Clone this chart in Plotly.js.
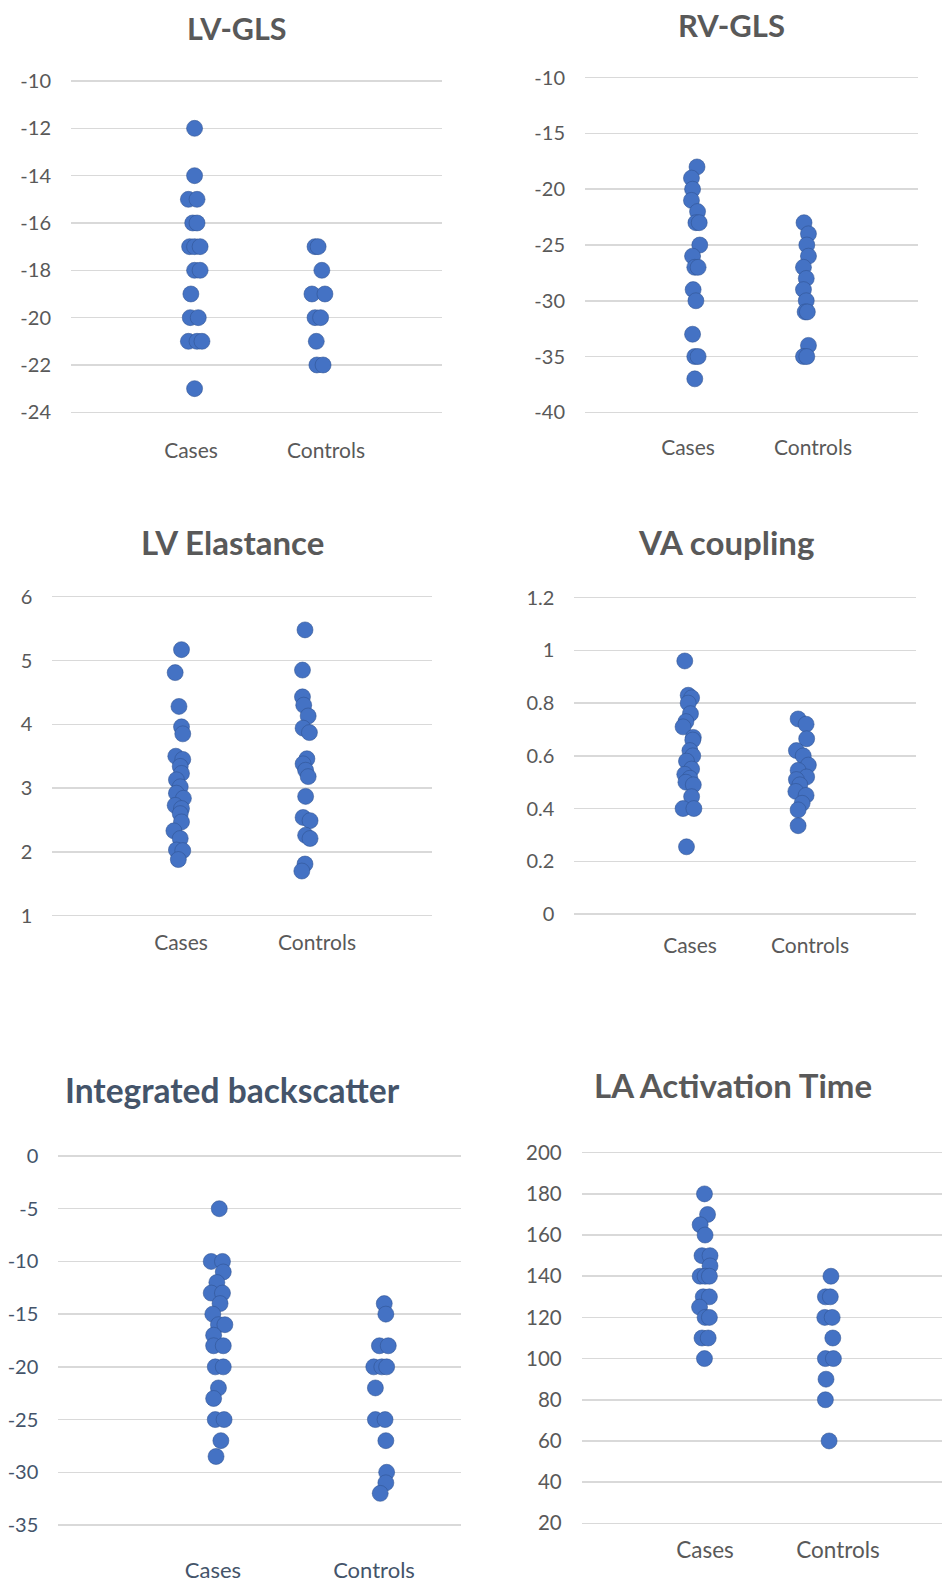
<!DOCTYPE html>
<html>
<head>
<meta charset="utf-8">
<script src="https://cdn.plot.ly/plotly-3.0.1.min.js"></script>
<style>
  html, body { margin: 0; padding: 0; background: #ffffff; }
  #chart { width: 942px; height: 1578px; }
</style>
</head>
<body>
<div id="chart"></div>
<script>
// ---------------- DATA ----------------
const categories = ["Cases", "Controls"];

// LV-GLS
const lvglsCasesY    = [-12, -14, -15, -15, -16, -16, -17, -17, -17, -18, -18, -19, -20, -20, -21, -21, -21, -23];
const lvglsCasesJit  = [0, 0, -0.05, 0.02, -0.015, 0.02, -0.04, 0.0, 0.045, 0.0, 0.045, -0.03, -0.035, 0.03, -0.05, 0.02, 0.06, 0];
const lvglsCtrlY     = [-17, -17, -18, -19, -19, -20, -20, -21, -22, -22];
const lvglsCtrlJit   = [-0.025, 0.0, 0.03, -0.05, 0.055, -0.025, 0.02, -0.015, -0.01, 0.04];
const lvglsTicks     = [-10, -12, -14, -16, -18, -20, -22, -24];

// RV-GLS
const rvglsCasesY    = [-18, -19, -20, -21, -22, -23, -23, -25, -26, -27, -27, -29, -30, -33, -35, -35, -37];
const rvglsCasesJit  = [0.01, -0.04, -0.03, -0.04, 0.015, 0.0, 0.03, 0.035, -0.03, -0.01, 0.02, -0.025, 0.0, -0.03, -0.01, 0.02, -0.01];
const rvglsCtrlY     = [-23, -24, -25, -26, -27, -28, -29, -30, -31, -31, -34, -35, -35];
const rvglsCtrlJit   = [-0.025, 0.015, 0.0, 0.015, -0.03, -0.005, -0.03, -0.005, -0.015, 0.005, 0.015, -0.03, 0.0];
const rvglsTicks     = [-10, -15, -20, -25, -30, -35, -40];

// LV Elastance
const lveCasesY      = [5.17, 4.81, 4.28, 3.96, 3.85, 3.50, 3.45, 3.34, 3.23, 3.13, 3.02, 2.92, 2.84, 2.73, 2.68, 2.60, 2.47, 2.33, 2.21, 2.03, 2.02, 1.88];
const lveCasesJit    = [0.02, -0.03, 0.0, 0.02, 0.03, -0.025, 0.03, 0.01, 0.02, -0.02, 0.01, -0.02, 0.035, -0.03, 0.02, 0.01, 0.02, -0.04, 0.01, -0.02, 0.03, -0.005];
const lveCtrlY       = [5.48, 4.85, 4.43, 4.30, 4.13, 3.94, 3.87, 3.46, 3.38, 3.28, 3.18, 2.87, 2.54, 2.49, 2.26, 2.21, 1.81, 1.70];
const lveCtrlJit     = [-0.005, -0.025, -0.025, -0.015, 0.02, -0.02, 0.03, 0.01, -0.02, 0.0, 0.02, 0.0, -0.02, 0.035, 0.0, 0.035, -0.005, -0.03];
const lveTicks       = [1, 2, 3, 4, 5, 6];

// VA coupling
const vaCasesY       = [0.96, 0.83, 0.82, 0.80, 0.76, 0.73, 0.71, 0.67, 0.66, 0.62, 0.60, 0.58, 0.55, 0.53, 0.515, 0.50, 0.49, 0.445, 0.40, 0.40, 0.255];
const vaCasesJit     = [-0.03, 0.0, 0.03, 0.0, 0.02, -0.02, -0.045, 0.045, 0.04, 0.015, 0.04, -0.015, 0.03, -0.03, 0.015, -0.02, 0.045, 0.03, -0.045, 0.05, -0.015];
const vaCtrlY        = [0.74, 0.72, 0.665, 0.62, 0.60, 0.565, 0.545, 0.52, 0.51, 0.49, 0.465, 0.45, 0.42, 0.395, 0.335];
const vaCtrlJit      = [-0.035, 0.035, 0.04, -0.05, 0.01, 0.055, -0.035, 0.04, -0.05, -0.02, -0.055, 0.035, 0.0, -0.035, -0.035];
const vaTicks        = [0, 0.2, 0.4, 0.6, 0.8, 1, 1.2];

// Integrated backscatter
const ibCasesY       = [-5, -10, -10, -11, -12, -13, -13, -14, -15, -16, -16, -17, -18, -18, -20, -20, -22, -23, -25, -25, -27, -28.5];
const ibCasesJit     = [0, -0.05, 0.02, 0.025, -0.015, -0.05, 0.02, 0.005, -0.04, -0.005, 0.035, -0.035, -0.035, 0.025, -0.025, 0.025, -0.005, -0.035, -0.025, 0.03, 0.01, -0.02];
const ibCtrlY        = [-14, -15, -18, -18, -20, -20, -20, -22, -25, -25, -27, -30, -31, -32];
const ibCtrlJit      = [0.025, 0.035, -0.005, 0.05, -0.04, 0.01, 0.04, -0.03, -0.03, 0.03, 0.035, 0.04, 0.035, 0.0];
const ibTicks        = [0, -5, -10, -15, -20, -25, -30, -35];

// LA Activation Time
const laCasesY       = [180, 170, 165, 160, 150, 150, 145, 140, 140, 140, 130, 130, 125, 120, 120, 110, 110, 100];
const laCasesJit     = [-0.005, 0.02, -0.04, 0.0, -0.025, 0.04, 0.04, -0.04, 0.0, 0.035, -0.015, 0.035, -0.045, 0.0, 0.035, -0.025, 0.025, -0.005];
const laCtrlY        = [140, 130, 130, 120, 120, 110, 100, 100, 90, 80, 60];
const laCtrlJit      = [0.02, -0.025, 0.015, -0.03, 0.03, 0.035, -0.025, 0.04, -0.02, -0.025, 0.005];
const laTicks        = [20, 40, 60, 80, 100, 120, 140, 160, 180, 200];

const panelTitles = ["LV-GLS", "RV-GLS", "LV Elastance", "VA coupling", "Integrated backscatter", "LA Activation Time"];

// ---------------- LAYOUT HELPERS ----------------
const W = 942, H = 1578;
const FONT = "Lato, 'Open Sans', sans-serif";
const GREY = "#595959";
const SLATE = "#44546A";
const BLUE = "#4472C4";
const PAD = 3; // px of breathing room so edge gridlines are drawn

// px: plot-area x extent; py: y extent (top,bottom); lx: pixel centres of the two category labels
const panels = [
  { cy: lvglsCasesY, cj: lvglsCasesJit, ky: lvglsCtrlY, kj: lvglsCtrlJit, ticks: lvglsTicks,
    px: [71, 441.7], py: [81, 412.3], yr: [-24, -10], xr: [0, 3], lx: [191, 326], t: [237, 28], ts: 30.5, col: GREY, tf: 20, cf: 21, xs: 24 },
  { cy: rvglsCasesY, cj: rvglsCasesJit, ky: rvglsCtrlY, kj: rvglsCtrlJit, ticks: rvglsTicks,
    px: [585, 917.7], py: [77.7, 412.3], yr: [-40, -10], xr: [0, 3], lx: [688, 813], t: [731, 25], ts: 31, col: GREY, tf: 20, cf: 21, xs: 21 },
  { cy: lveCasesY, cj: lveCasesJit, ky: lveCtrlY, kj: lveCtrlJit, ticks: lveTicks,
    px: [52.3, 432.3], py: [596.7, 915.7], yr: [1, 6], xr: [0, 3], lx: [181, 317], t: [232.3, 542], ts: 33, col: GREY, tf: 20, cf: 21, xs: 12 },
  { cy: vaCasesY, cj: vaCasesJit, ky: vaCtrlY, kj: vaCtrlJit, ticks: vaTicks,
    px: [574.3, 916], py: [597.7, 914], yr: [0, 1.2], xr: [0, 3], lx: [690, 810], t: [726, 542], ts: 33, col: GREY, tf: 20, cf: 21, xs: 17 },
  { cy: ibCasesY, cj: ibCasesJit, ky: ibCtrlY, kj: ibCtrlJit, ticks: ibTicks,
    px: [58.3, 460.7], py: [1156, 1525], yr: [-35, 0], xr: [0, 2.5], lx: [213, 374], t: [232.3, 1090], ts: 33.5, col: SLATE, tf: 20, cf: 22, xs: 30 },
  { cy: laCasesY, cj: laCasesJit, ky: laCtrlY, kj: laCtrlJit, ticks: laTicks,
    px: [581.7, 942], py: [1152.7, 1523.3], yr: [20, 200], xr: [0, 2.92], lx: [705, 838], t: [733.3, 1085], ts: 33, col: GREY, tf: 20.5, cf: 22.5, xs: 11 }
];

const traces = [];
const layout = {
  width: W, height: H,
  margin: { l: 0, r: 0, t: 0, b: 0, pad: 0 },
  paper_bgcolor: "#ffffff",
  plot_bgcolor: "rgba(0,0,0,0)",
  showlegend: false,
  font: { family: FONT, color: GREY },
  annotations: []
};

panels.forEach((p, i) => {
  const n = i + 1;
  const xa = "x" + (n === 1 ? "" : n);
  const ya = "y" + (n === 1 ? "" : n);
  const xk = "xaxis" + (n === 1 ? "" : n);
  const yk = "yaxis" + (n === 1 ? "" : n);

  const marker = { color: BLUE, size: 16, line: { color: "rgba(47,82,143,0.55)", width: 1 } };
  traces.push({
    type: "scatter", mode: "markers", xaxis: xa, yaxis: ya,
    x: p.cj.map(j => 1 + j), y: p.cy, name: categories[0], marker: marker, hoverinfo: "y", cliponaxis: false
  });
  traces.push({
    type: "scatter", mode: "markers", xaxis: xa, yaxis: ya,
    x: p.kj.map(j => 2 + j), y: p.ky, name: categories[1], marker: marker, hoverinfo: "y", cliponaxis: false
  });

  // extend the y range by PAD pixels on each side so that edge gridlines render
  const span = p.yr[1] - p.yr[0];
  const pxSpan = p.py[1] - p.py[0];
  const d = span * PAD / pxSpan;
  const top = p.py[0] - PAD, bottom = p.py[1] + PAD;

  // category label positions (in axis units) from their pixel centres
  const toX = px => p.xr[0] + (px - p.px[0]) / (p.px[1] - p.px[0]) * (p.xr[1] - p.xr[0]);

  layout[xk] = {
    domain: [p.px[0] / W, Math.min(1, p.px[1] / W)],
    anchor: ya,
    range: p.xr,
    tickmode: "array", tickvals: p.lx.map(toX), ticktext: categories,
    showgrid: false, zeroline: false, showline: false, ticks: "",
    ticklabelstandoff: p.xs - PAD,
    tickfont: { family: FONT, size: p.cf, color: p.col },
    fixedrange: true
  };
  layout[yk] = {
    domain: [1 - bottom / H, 1 - top / H],
    anchor: xa,
    range: [p.yr[0] - d, p.yr[1] + d],
    tickmode: "array", tickvals: p.ticks, ticktext: p.ticks.map(v => String(v)),
    showgrid: true, gridcolor: "#D9D9D9", gridwidth: 1.5,
    zeroline: false, showline: false, ticks: "",
    ticklabelstandoff: 19,
    tickfont: { family: FONT, size: p.tf, color: p.col },
    fixedrange: true
  };

  layout.annotations.push({
    text: "<b>" + panelTitles[i] + "</b>",
    xref: "paper", yref: "paper",
    x: p.t[0] / W, y: 1 - p.t[1] / H,
    xanchor: "center", yanchor: "middle",
    showarrow: false,
    font: { family: FONT, size: p.ts, color: p.col }
  });
});

Plotly.newPlot("chart", traces, layout, { displayModeBar: false, staticPlot: true });
</script>
</body>
</html>
